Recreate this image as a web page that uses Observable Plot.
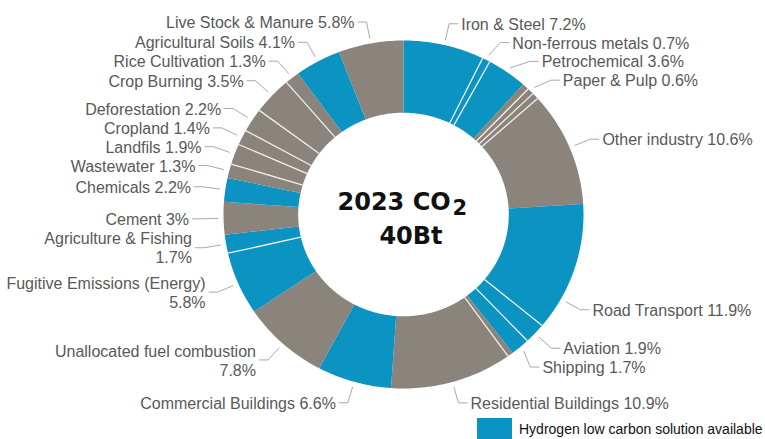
<!DOCTYPE html>
<html>
<head>
<meta charset="utf-8">
<script src="https://cdn.jsdelivr.net/npm/d3@7"></script>
<script src="https://cdn.jsdelivr.net/npm/@observablehq/plot@0.6"></script>
<style>
  html, body { margin: 0; padding: 0; background: #fff; }
  #legend { display: flex; align-items: center; margin-left: 477px; height: 21px;
            font-family: "Liberation Sans", Arial, sans-serif; font-size: 14px; color: #111; }
  #legend .sw { width: 35px; height: 22px; margin-right: 7px; flex: none; }
</style>
</head>
<body>
<div id="chart"></div>
<div id="legend"><span class="sw"></span><span id="legend-text"></span></div>
<script>
// ---- data (clockwise from 12 o'clock; "" = unlabelled sliver) ----
const sectors = ["Iron & Steel", "Non-ferrous metals", "Petrochemical", "", "Paper & Pulp", "",
  "Other industry", "Road Transport", "Aviation", "Shipping", "", "Residential Buildings",
  "Commercial Buildings", "Unallocated fuel combustion", "Fugitive Emissions (Energy)",
  "Agriculture & Fishing", "Cement", "Chemicals", "Wastewater", "Landfils", "Cropland",
  "Deforestation", "Crop Burning", "Rice Cultivation", "Agricultural Soils", "Live Stock & Manure"];
const shares = [7.2, 0.7, 3.6, 0.6, 0.6, 0.6, 10.6, 11.9, 1.9, 1.7, 0.5, 10.9, 6.6, 7.8, 5.8,
  1.7, 3, 2.2, 1.3, 1.9, 1.4, 2.2, 3.5, 1.3, 4.1, 5.8];
const hydrogenSolution = [1, 1, 1, 0, 0, 0, 0, 1, 1, 1, 0, 0, 1, 0, 1, 1, 0, 1, 0, 0, 0, 0, 0, 0, 1, 0];
const categoryKeys = ["hydrogen", "other"];
const legendLabel = "Hydrogen low carbon solution available";
const centerTitle = "2023 CO";
const centerSubscript = "2";
const centerTotal = "40Bt";

// ---- layout / style ----
const BLUE = "#0b93c1", GRAY = "#8a847c";
const X_RANGE = [223, 583], Y_RANGE = [388, 40];
const PX_X = (X_RANGE[1] - X_RANGE[0]) / 2, PX_Y = (Y_RANGE[0] - Y_RANGE[1]) / 2;
const R_IN = 0.585, R_OUT = 1, R_LEAD = 1.03, R_ELBOW = 1.125;
const LINE_PX = 18.8;
const twoLineLabels = new Set(["Agriculture & Fishing", "Fugitive Emissions (Energy)", "Unallocated fuel combustion"]);
const labelNudgeDeg = {"Road Transport": 11};

const rows = sectors.map((name, i) => ({name, share: shares[i], kind: hydrogenSolution[i] ? "hydrogen" : "other"}));
const arcs = d3.pie().sort(null).value(d => d.share)(rows);

// slice polygons
const polys = [];
arcs.forEach((a, i) => {
  const n = Math.max(2, Math.ceil((a.endAngle - a.startAngle) * 180 / Math.PI));
  const pts = [];
  for (let k = 0; k <= n; k++) { const t = a.startAngle + (a.endAngle - a.startAngle) * k / n; pts.push([R_OUT * Math.sin(t), R_OUT * Math.cos(t)]); }
  for (let k = n; k >= 0; k--) { const t = a.startAngle + (a.endAngle - a.startAngle) * k / n; pts.push([R_IN * Math.sin(t), R_IN * Math.cos(t)]); }
  pts.forEach(([x, y]) => polys.push({key: i, kind: a.data.kind, x, y}));
});

// separators between adjacent slices of the same colour
const seps = [];
arcs.forEach((a, i) => {
  const b = arcs[(i + 1) % arcs.length];
  if (a.data.kind === b.data.kind) {
    const t = a.endAngle;
    seps.push({x1: R_IN * Math.sin(t), y1: R_IN * Math.cos(t), x2: R_OUT * Math.sin(t), y2: R_OUT * Math.cos(t)});
  }
});

// labels
const labels = arcs.filter(a => a.data.name !== "").map(a => {
  const ang = (a.startAngle + a.endAngle) / 2 + (labelNudgeDeg[a.data.name] || 0) * Math.PI / 180;
  const side = Math.sin(ang) >= 0 ? 1 : -1;
  const two = twoLineLabels.has(a.data.name);
  return {
    name: a.data.name, ang, side, lines: two ? 2 : 1,
    label: a.data.name + (two ? "\n" : " ") + a.data.share + "%",
    ey: R_ELBOW * Math.cos(ang)
  };
});
for (const s of [1, -1]) {
  const group = labels.filter(d => d.side === s).sort((p, q) => q.ey - p.ey);
  for (let i = 1; i < group.length; i++) {
    const need = (group[i - 1].lines + group[i].lines) / 2 * LINE_PX / PX_Y;
    if (group[i - 1].ey - group[i].ey < need) group[i].ey = group[i - 1].ey - need;
  }
}
labels.forEach(d => {
  const c = Math.max(-1, Math.min(1, d.ey / R_ELBOW));
  d.ex = d.side * R_ELBOW * Math.sqrt(1 - c * c);
});
const leaders = [];
labels.forEach((d, i) => {
  leaders.push({key: i, x: R_LEAD * Math.sin(d.ang), y: R_LEAD * Math.cos(d.ang)});
  leaders.push({key: i, x: d.ex, y: d.ey});
  leaders.push({key: i, x: d.ex + d.side * 9 / PX_X, y: d.ey});
});

const labelFont = {fontSize: 16, fill: "#595959", fontFamily: "Liberation Sans, Arial, sans-serif", lineHeight: 1.19, lineAnchor: "middle"};
const centerFont = {fontFamily: "DejaVu Sans, sans-serif", fontWeight: "bold", fill: "#111"};
const center = [{x: 0, y: 0}];

const chart = Plot.plot({
  width: 765,
  height: 418,
  margin: 0,
  x: {domain: [-1, 1], range: X_RANGE, axis: null},
  y: {domain: [-1, 1], range: Y_RANGE, axis: null},
  color: {domain: categoryKeys, range: [BLUE, GRAY]},
  marks: [
    Plot.line(polys, {x: "x", y: "y", z: "key", fill: "kind", stroke: "none"}),
    Plot.link(seps, {x1: "x1", y1: "y1", x2: "x2", y2: "y2", stroke: "#f1eee9", strokeWidth: 1.3}),
    Plot.line(leaders, {x: "x", y: "y", z: "key", stroke: "#a9a9a9", strokeWidth: 1, strokeLinecap: "butt"}),
    Plot.text(labels.filter(d => d.side > 0), {x: "ex", y: "ey", text: "label", textAnchor: "start", dx: 12, ...labelFont}),
    Plot.text(labels.filter(d => d.side < 0), {x: "ex", y: "ey", text: "label", textAnchor: "end", dx: -12, ...labelFont}),
    Plot.text(center, {x: "x", y: "y", text: () => centerTitle, textAnchor: "start", dx: -66, dy: -12, fontSize: 24, ...centerFont}),
    Plot.text(center, {x: "x", y: "y", text: () => centerSubscript, textAnchor: "start", dx: 49, dy: -6, fontSize: 21, ...centerFont}),
    Plot.text(center, {x: "x", y: "y", text: () => centerTotal, textAnchor: "middle", dx: 7.5, dy: 22, fontSize: 24, ...centerFont})
  ]
});
document.getElementById("chart").appendChild(chart);
document.querySelector("#legend .sw").style.background = BLUE;
document.getElementById("legend-text").textContent = legendLabel;
</script>
</body>
</html>
